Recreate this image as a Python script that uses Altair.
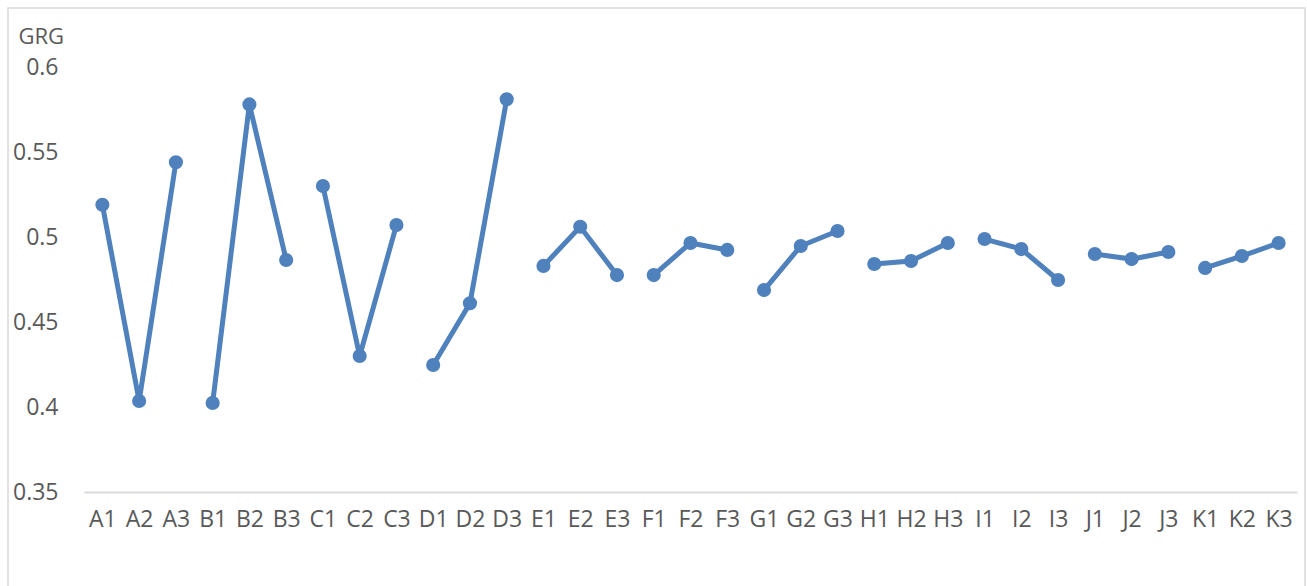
import altair as alt
import pandas as pd

categories = ["A1","A2","A3","B1","B2","B3","C1","C2","C3","D1","D2","D3",
              "E1","E2","E3","F1","F2","F3","G1","G2","G3","H1","H2","H3",
              "I1","I2","I3","J1","J2","J3","K1","K2","K3"]
values = [0.519, 0.4035, 0.544, 0.4024, 0.578, 0.4865, 0.530, 0.430, 0.507,
          0.4247, 0.461, 0.581, 0.483, 0.506, 0.4776, 0.4776, 0.4965, 0.4924,
          0.4688, 0.4947, 0.5035, 0.4841, 0.4859, 0.4965, 0.4988, 0.4929, 0.4747,
          0.490, 0.487, 0.4912, 0.4818, 0.4888, 0.4965]
y_ticks = [0.35, 0.4, 0.45, 0.5, 0.55, 0.6]

df = pd.DataFrame({"cat": categories, "grg": values,
                   "grp": [c[0] for c in categories]})

FONT = "Open Sans"
COLOR = "#4F81BD"
FS = 23

x = alt.X("cat:N", sort=categories, scale=alt.Scale(type="point", padding=0.5),
          axis=alt.Axis(title=None, labelAngle=0, ticks=False, domainColor="#d9d9d9",
                        domainWidth=1.8, labelFont=FONT, labelFontSize=FS,
                        labelColor="#595959", labelPadding=16, grid=False))
y = alt.Y("grg:Q", scale=alt.Scale(domain=[0.35, 0.6], zero=False, nice=False),
          axis=alt.Axis(values=y_ticks, labelExpr="format(datum.value, '.2~f')",
                        title="GRG", titleAngle=0, titleX=-66, titleY=-24,
                        titleAlign="left", titleBaseline="alphabetic",
                        titleFont=FONT, titleFontSize=FS - 1, titleFontWeight="normal",
                        titleColor="#595959", domain=False, ticks=False, grid=False,
                        labelFont=FONT, labelFontSize=FS, labelColor="#595959",
                        labelPadding=26))

base = alt.Chart(df)
lines = base.mark_line(color=COLOR, strokeWidth=5).encode(x=x, y=y, detail="grp:N")
points = base.mark_point(color=COLOR, filled=True, opacity=1, size=200).encode(x=x, y=y)

border = alt.Chart(pd.DataFrame({"a": [0]})).mark_rect(
    fill="transparent", stroke="#d9d9d9", strokeWidth=1.5, clip=False
).encode(x=alt.value(-76), x2=alt.value(1221), y=alt.value(-59), y2=alt.value(600))

chart = alt.layer(border, lines, points).properties(
    width=1213, height=425,
    background="white",
    autosize=alt.AutoSizeParams(type="none"),
    padding={"left": 84, "top": 67, "right": 10, "bottom": 94},
).configure_view(stroke="transparent", strokeWidth=0)

chart.save("out.html", embed_options={"renderer": "svg", "actions": False})
